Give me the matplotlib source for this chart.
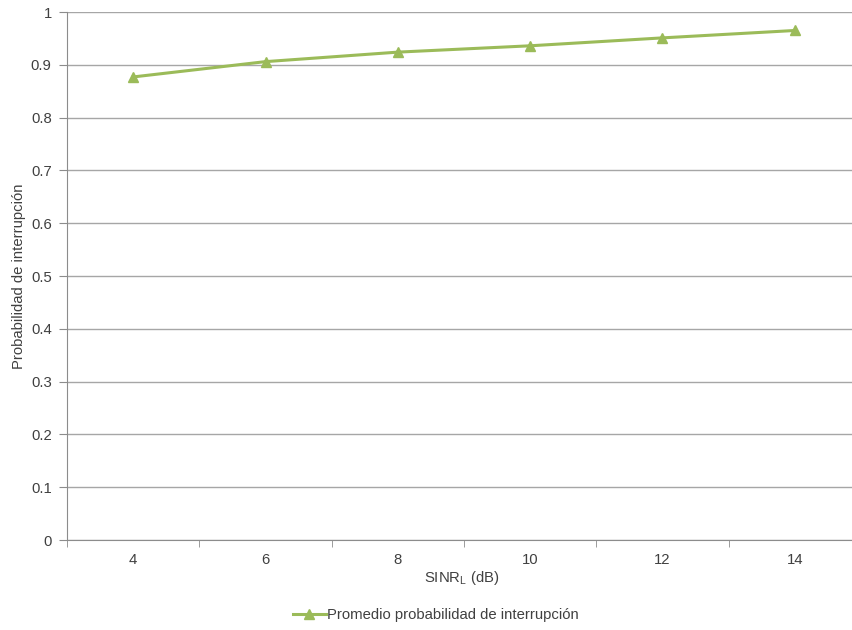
import matplotlib.pyplot as plt
import numpy as np

plt.rcParams['font.family'] = ['Liberation Sans', 'DejaVu Sans']

sinr = [4, 6, 8, 10, 12, 14]
prob = [0.877, 0.906, 0.924, 0.936, 0.951, 0.965]
yticks = [0, 0.1, 0.2, 0.3, 0.4, 0.5, 0.6, 0.7, 0.8, 0.9, 1]
ytick_labels = ['0', '0.1', '0.2', '0.3', '0.4', '0.5', '0.6', '0.7', '0.8', '0.9', '1']

grid_col = '#a6a6a6'
axis_col = '#8c8c8c'
green = '#9bbb59'
txt_col = '#404040'
fs = 10.7

fig = plt.figure(figsize=(8.53, 6.30), dpi=100)
# axes extends slightly past the right edge like the original export
ax = fig.add_axes([67/853, 90/630, (861-67)/853, (540-12)/630])

x = np.arange(len(sinr))
ax.plot(x, prob, color=green, lw=2.2, marker='^', markersize=7,
        markerfacecolor=green, markeredgecolor=green,
        label='Promedio probabilidad de interrupción')

ax.set_xlim(-0.5, len(sinr) - 0.5)
ax.set_ylim(0, 1)
ax.set_yticks(yticks)
ax.set_yticklabels(ytick_labels)
ax.set_xticks(x)
ax.set_xticklabels([str(s) for s in sinr])
ax.set_xticks(np.arange(-0.5, len(sinr), 1), minor=True)

ax.yaxis.grid(True, color=grid_col, lw=1)
ax.set_axisbelow(True)
for s in ['top', 'right']:
    ax.spines[s].set_visible(False)
ax.spines['left'].set_color(axis_col)
ax.spines['bottom'].set_color(axis_col)

ax.tick_params(axis='y', length=6, color=axis_col, labelsize=fs,
               labelcolor=txt_col, pad=5)
ax.tick_params(axis='x', which='major', length=0, labelsize=fs,
               labelcolor=txt_col, pad=9)
ax.tick_params(axis='x', which='minor', length=5, color=axis_col)

ax.set_ylabel('Probabilidad de interrupción', fontsize=fs, color=txt_col)
ax.yaxis.set_label_coords(-0.052, 0.5)
fig.text(462/853, 1 - 578/630, r'SINR$_\mathregular{L}$ (dB)', fontsize=fs,
         color=txt_col, ha='center', va='center')

fig.legend(loc='center', bbox_to_anchor=(436/853, 1 - 615/630), frameon=False,
           fontsize=fs, handlelength=2.2, handletextpad=0.1, labelcolor=txt_col)

fig.savefig('out.png', dpi=100)
